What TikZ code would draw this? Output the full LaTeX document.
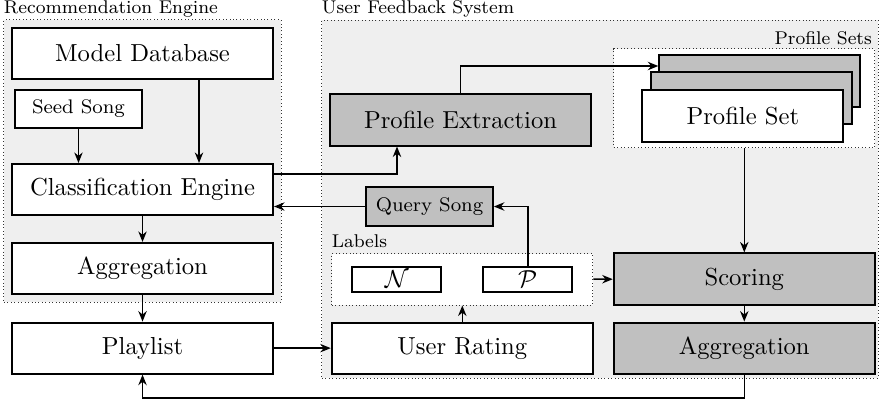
\documentclass[tikz,border=0pt]{standalone}
\usetikzlibrary{arrows.meta, positioning, fit, backgrounds}
\definecolor{boxgray}{RGB}{192,192,192}
\definecolor{areagray}{RGB}{239,239,239}

\begin{document}
\begin{tikzpicture}[
    arr/.style={-{Stealth[length=1.5mm, width=1.2mm]}, semithick},
    block/.style={rectangle, draw, thick, fill=white, minimum width=3.73cm,
                  minimum height=0.73cm, inner sep=0pt},
    darkblock/.style={block, fill=boxgray},
    smallblock/.style={block, minimum width=1.81cm, minimum height=0.55cm, font=\footnotesize},
    labelbox/.style={block, minimum width=1.27cm, minimum height=0.36cm},
    setbox/.style={block, minimum width=2.87cm, minimum height=0.74cm},
    groupbox/.style={rectangle, draw=black!80, densely dotted, thin, fill=areagray, inner sep=0pt},
    subgroup/.style={rectangle, draw=black!80, densely dotted, thin, fill=white,
                     minimum width=3.73cm, inner sep=0pt},
    grouplabel/.style={font=\fontsize{7.5}{9}\selectfont, inner sep=0pt},
]
\useasboundingbox (0,0) rectangle (12.571,-5.714);

% recommendation engine
\node[block] (md) at (2.036,-0.764) {Model Database};
\node[smallblock] (seed) at (1.121,-1.557) {Seed Song};
\node[block] (cls) at (2.036,-2.707) {Classification Engine};
\node[block, below=0.37cm of cls] (aggl) {Aggregation};
\node[block, below=0.38cm of aggl] (pl) {Playlist};

% user feedback system
\node[block, right=0.81cm of pl] (ur) {User Rating};
\node[darkblock, right=0.27cm of ur] (aggr) {Aggregation};
\node[darkblock, above=0.23cm of aggr] (sc) {Scoring};
\node[subgroup, minimum height=0.73cm, above=0.23cm of ur] (labels) {};
\node[labelbox, xshift=-0.935cm] (neg) at (labels.center) {$\mathcal{N}$};
\node[labelbox, xshift=0.935cm] (pos) at (labels.center) {$\mathcal{P}$};
\node[darkblock] (pe) at (6.579,-1.714) {Profile Extraction};
\node[smallblock, fill=boxgray] (qs) at (6.136,-2.95) {Query Song};

% profile sets
\node[subgroup, minimum height=1.41cm, above=1.49cm of sc] (psets) {};
\node[setbox, fill=boxgray, xshift=0.221cm, yshift=0.25cm] (back) at (psets.center) {};
\node[setbox, fill=boxgray, xshift=0.1cm] (mid) at (psets.center) {};
\node[setbox, xshift=-0.021cm, yshift=-0.25cm] (ps) at (psets.center) {Profile Set};

\begin{scope}[on background layer]
\node[groupbox, fit=(md)(aggl), inner sep=0.1cm] (rebox) {};
\node[groupbox, minimum width=7.943cm, minimum height=5.114cm] (ufs) at (8.571,-2.843) {};
\end{scope}

\node[grouplabel, anchor=base west] (relabel) at ([yshift=0.086cm]rebox.north west) {Recommendation Engine};
\node[grouplabel, anchor=base west] (ufslabel) at ([yshift=0.086cm]ufs.north west) {User Feedback System};
\node[grouplabel, anchor=base east] (pslabel) at ([xshift=-0.043cm, yshift=0.057cm]psets.north east) {Profile Sets};
\node[grouplabel, anchor=base west] (lablabel) at ([yshift=0.086cm]labels.north west) {Labels};

\draw[arr] (seed) -- (seed |- cls.north);
\draw[arr] ([xshift=0.807cm]md.south) -- ([xshift=0.807cm]cls.north);
\draw[arr] (cls) -- (aggl);
\draw[arr] (aggl) -- (pl);
\draw[arr] (pl) -- (ur);
\draw[arr] ([yshift=0.221cm]cls.east) -| ([xshift=-0.908cm]pe.south);
\draw[arr] (pe.north) |- ([yshift=0.211cm]back.west);
\draw[arr] (qs.west) -- (qs.west -| cls.east);
\draw[arr] (pos.north) |- (qs.east);
\draw[arr] (ur) -- (labels);
\draw[arr] (labels) -- (sc);
\draw[arr] (psets) -- (sc);
\draw[arr] (sc) -- (aggr);
\draw[arr] (aggr.south) -- ++(0,-0.33) -| (pl.south);
\end{tikzpicture}
\end{document}
